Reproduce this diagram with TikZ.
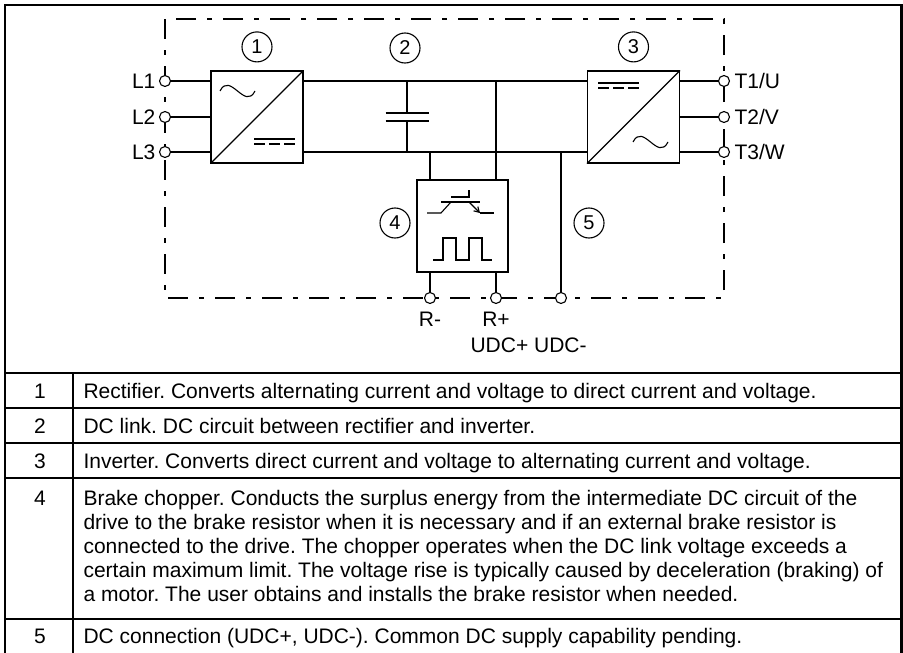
\documentclass[tikz,border=0pt]{standalone}
\usepackage{fontspec}
\setmainfont{Liberation Sans}
\usetikzlibrary{calc}
\usetikzlibrary{positioning}
\usetikzlibrary{arrows.meta}
\frenchspacing

\begin{document}
\begin{tikzpicture}[x=1pt,y=-1pt,line width=1.1pt,
    every node/.style={font=\fontsize{21}{24}\selectfont},
    lab/.style={inner sep=0pt,text depth=0pt},
    term/.style={circle,draw,fill=white,inner sep=0pt,minimum size=11pt},
    conv/.style={draw,inner sep=0pt,minimum size=92pt},
    num/.style={circle,draw,inner sep=0pt,minimum size=30pt,font=\fontsize{20}{20}\selectfont},
    drivebox/.style={dash pattern=on 20pt off 11pt on 5pt off 11pt},
    rule/.style={line width=2pt}]
\useasboundingbox (0,0) rectangle (903,653);

% outer frame and table
\draw[line width=2.5pt] (5,653) -- (5,5) -- (901.5,5) -- (901.5,653);
\draw[rule] (5,373) -- (901.5,373);
\draw[rule] (5,408) -- (901.5,408);
\draw[rule] (5,443) -- (901.5,443);
\draw[rule] (5,478) -- (901.5,478);
\draw[rule] (5,619) -- (901.5,619);
\draw[line width=1.5pt] (73,373) -- (73,653);

% drive
\draw[drivebox] (165,19) rectangle (724,298);
\node[conv] (rect) at (257,117) {};
\node[conv] (inv) at (633.5,117) {};
\node[draw,inner sep=0pt,minimum width=91pt,minimum height=92pt] (chop) at (462.5,226) {};

\node[term] (L1) at (165,81) {};
\node[term] (L2) at (165,117) {};
\node[term] (L3) at (165,152) {};
\node[term] (T1) at (724,81) {};
\node[term] (T2) at (724,117) {};
\node[term] (T3) at (724,152) {};
\node[term] (Rm) at (430,298) {};
\node[term] (Rp) at (496,298) {};
\node[term] (Um) at (561,298) {};

\node[lab,left=3pt of L1] (L1lab) {L1};
\node[lab,left=3pt of L2] (L2lab) {L2};
\node[lab,left=3pt of L3] (L3lab) {L3};
\node[lab,right=4pt of T1] (T1lab) {T1/U};
\node[lab,right=4pt of T2] (T2lab) {T2/V};
\node[lab,right=4pt of T3] (T3lab) {T3/W};
\node[lab,below=7pt of Rm] (Rmlab) {R-};
\node[lab,below=7pt of Rp] (Rplab) {R+};
\node[lab,anchor=base west] (udclab) at (470,352) {UDC+ UDC-};

\node[num,above=8pt of rect] (no1) {1};
\node[num] (no2) at (405,48) {2};
\node[num,above=8pt of inv] (no3) {3};
\node[num] (no4) at (395,223) {4};
\node[num] (no5) at (589,223) {5};

% supply and motor side
\draw (L1) -- (L1 -| rect.west);
\draw (L2) -- (L2 -| rect.west);
\draw (L3) -- (L3 -| rect.west);
\draw (inv.east |- T1) -- (T1);
\draw (inv.east |- T2) -- (T2);
\draw (inv.east |- T3) -- (T3);

% dc link
\draw (rect.east |- L1) -- (inv.west |- L1);
\draw (rect.east |- L3) -- (inv.west |- L3);
\coordinate (cap) at (407,117);
\draw (cap |- L1) -- ($(cap)+(0,-4)$);
\draw ($(cap)+(0,4)$) -- (cap |- L3);
\draw ($(cap)+(-21.5,-4)$) -- ($(cap)+(21.5,-4)$);
\draw ($(cap)+(-21.5,4)$) -- ($(cap)+(21.5,4)$);
\draw (Rm |- L3) -- (Rm |- chop.north);
\draw (Rm |- chop.south) -- (Rm);
\draw (Rp |- L1) -- (Rp |- chop.north);
\draw (Rp |- chop.south) -- (Rp);
\draw (Um |- L3) -- (Um);

% symbols
\draw (rect.south west) -- (rect.north east);
\draw (inv.south west) -- (inv.north east);
\begin{scope}[shift={(rect.center)}]
    \draw (-37,-26) .. controls (-27,-46) and (-12,-6) .. (-2,-26);
    \draw (-3,22) -- (38,22);
    \draw (-3,27) -- (8,27) (12,27) -- (23,27) (27,27) -- (38,27);
\end{scope}
\begin{scope}[shift={(inv.center)}]
    \draw (-0.5,25) .. controls (9.5,5) and (24.5,45) .. (34.5,25);
    \draw (-35.5,-34) -- (5.5,-34);
    \draw (-35.5,-29) -- (-24.5,-29) (-20.5,-29) -- (-9.5,-29) (-5.5,-29) -- (5.5,-29);
\end{scope}
\begin{scope}[shift={(chop.center)}]
    \draw (-35.5,-13) -- (-21.5,-13) -- (-11.5,-24);
    \draw (-21.5,-24) -- (17.5,-24);
    \draw[-{Straight Barb[length=5pt,width=6pt]}] (6.5,-24) -- (17.5,-13);
    \draw (17.5,-13) -- (31.5,-13);
    \draw (-11.5,-29) -- (6.5,-29) -- (6.5,-36);
    \draw (-29.5,34) -- (-19.5,34) -- (-19.5,12) -- (-6.5,12) -- (-6.5,34) -- (6.5,34)
        -- (6.5,12) -- (19.5,12) -- (19.5,34) -- (29.5,34);
\end{scope}

% table
\node[anchor=base] (no1t) at (40,398) {1};
\node[anchor=base] (no2t) at (40,433) {2};
\node[anchor=base] (no3t) at (40,468) {3};
\node[anchor=base] (no4t) at (40,505) {4};
\node[anchor=base] (no5t) at (40,643.5) {5};
\node[anchor=base west,inner sep=0pt] (row1) at (83,398) {Rectifier. Converts alternating current and voltage to direct current and voltage.};
\node[anchor=base west,inner sep=0pt] (row2) at (83,433) {DC link. DC circuit between rectifier and inverter.};
\node[anchor=base west,inner sep=0pt] (row3) at (83,468) {Inverter. Converts direct current and voltage to alternating current and voltage.};
\node[anchor=north west,inner sep=0pt,align=left] (row4) at (83,489.5) {Brake chopper. Conducts the surplus energy from the intermediate DC circuit of the\\
    drive to the brake resistor when it is necessary and if an external brake resistor is\\
    connected to the drive. The chopper operates when the DC link voltage exceeds a\\
    certain maximum limit. The voltage rise is typically caused by deceleration (braking) of\\
    a motor. The user obtains and installs the brake resistor when needed.};
\node[anchor=base west,inner sep=0pt] (row5) at (83,643.5) {DC connection (UDC+, UDC-). Common DC supply capability pending.};
\end{tikzpicture}
\end{document}
